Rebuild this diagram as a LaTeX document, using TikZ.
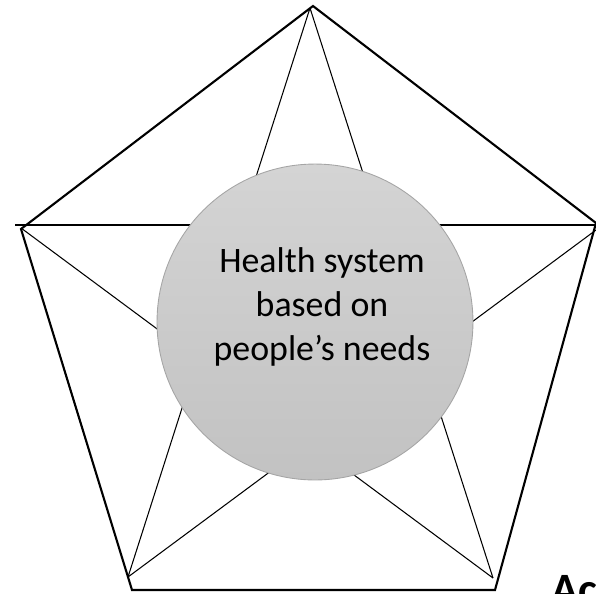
\documentclass[tikz,border=0pt]{standalone}
\usepackage{fontspec}
\setmainfont{Carlito}
\definecolor{hubtop}{RGB}{212,212,212}
\definecolor{hubbottom}{RGB}{194,194,194}
\definecolor{hubline}{RGB}{165,165,165}
\begin{document}
\begin{tikzpicture}[x=0.02cm,y=-0.02cm,
		frame/.style={black,line width=1.2pt,line join=miter},
		star/.style={black,line width=0.6pt},
		hub/.style={circle,draw=hubline,line width=0.5pt,top color=hubtop,bottom color=hubbottom,minimum size=6.32cm,inner sep=0pt},
		hubtext/.style={align=center,font=\fontsize{20.4}{24.9}\selectfont},
		cuttext/.style={anchor=base west,inner sep=0pt,font=\fontsize{25.5}{30}\selectfont\bfseries}]
	\useasboundingbox (0,0) rectangle (596,593);
	\clip (0,0) rectangle (596,593);
	
	\coordinate (top) at (313,6);
	\coordinate (left) at (21,229);
	\coordinate (right) at (596,223);
	\coordinate (botleft) at (132,590);
	\coordinate (botright) at (495,590);
	
	\coordinate (s-top) at (310,8);
	\coordinate (s-left) at (15,225);
	\coordinate (s-left2) at (21,228);
	\coordinate (s-right) at (596,225);
	\coordinate (s-right2) at (596,230);
	\coordinate (s-botleft) at (128,577);
	\coordinate (s-botright) at (493,578);
	
	\draw[star] (s-top) -- (s-botleft);
	\draw[star] (s-top) -- (s-botright);
	\draw[star] (s-left) -- (s-right);
	\draw[star] (s-left2) -- (s-botright);
	\draw[star] (s-right2) -- (s-botleft);
	
	\draw[frame] (top) -- (right) -- (botright) -- (botleft) -- (left) -- cycle;
	
	\node[hub] (hub) at (315,322) {};
	\node[hubtext] (needs) at (322,307) {Health system\\based on\\people’s needs};
	
	\node[cuttext] (access) at (551,604) {Ac};
\end{tikzpicture}
\end{document}
